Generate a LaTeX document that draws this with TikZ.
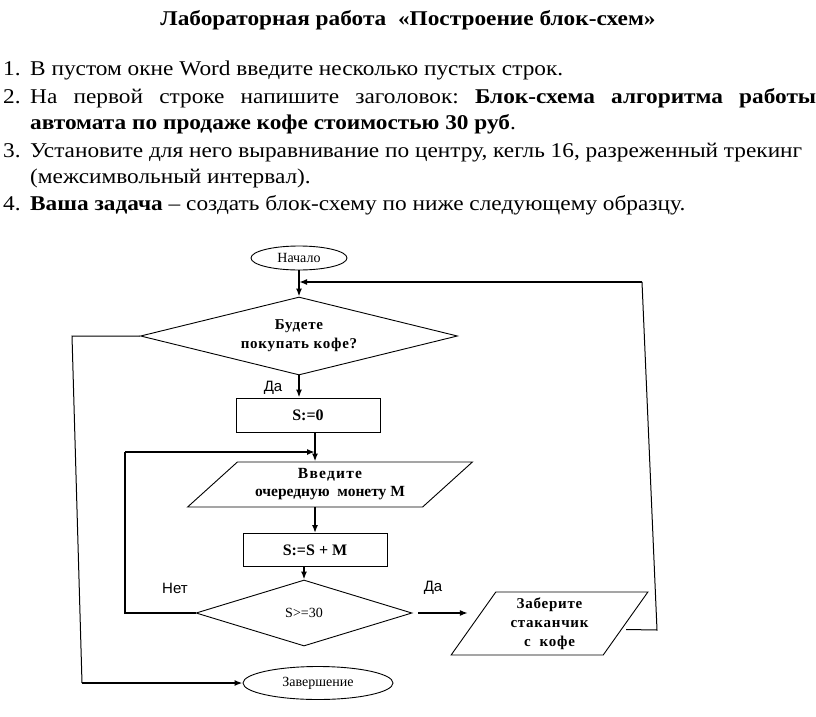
\documentclass[tikz,border=0pt]{standalone}
\usepackage{fontspec}
\setmainfont[FakeStretch=1.11]{Liberation Serif}
\newfontfamily\fcf{Liberation Serif}
\newfontfamily\arialf{Liberation Sans}
\usetikzlibrary{shapes.geometric,arrows.meta,calc}
\frenchspacing
\begin{document}
\begin{tikzpicture}[x=1pt,y=-1pt,
  txt/.style={anchor=base west,inner sep=0pt,font=\fontsize{21}{25}\selectfont},
  outl/.style={draw,line width=0.9pt},
  term/.style={outl,ellipse,inner sep=0pt,font=\fcf\fontsize{14}{16}\selectfont},
  proc/.style={outl,rectangle,inner sep=0pt,font=\fcf\bfseries\fontsize{16}{18}\selectfont},
  dec/.style={outl,diamond,inner sep=0pt},
  io/.style={outl,trapezium,trapezium stretches=true,inner sep=0pt,align=center},
  arr/.style={line width=1.6pt,-{Latex[length=8pt,width=6pt]}},
  thin/.style={line width=1pt},
  lbl/.style={inner sep=0pt,font=\arialf\fontsize{15}{17}\selectfont},
  sp/.style={font=\fcf\bfseries\fontsize{15}{19}\selectfont\addfontfeature{LetterSpace=5}}
]
\useasboundingbox (0,0) rectangle (816,717);
% ---- text part ----
\node[anchor=base,inner sep=0pt,font=\bfseries\fontsize{21}{25}\selectfont] (title) at (408,26) {Лабораторная работа\ \ «Построение блок-схем»};
\node[txt] (n1) at (3,75) {1.};
\node[txt] (t1) at (30,75) {В пустом окне Word введите несколько пустых строк.};
\node[txt] (n2) at (3,103) {2.};
\node[txt] (t2) at (30,103) {\makebox[786pt][s]{На первой строке напишите заголовок: \textbf{Блок-схема алгоритма работы}}};
\node[txt] (t3) at (30,129) {\textbf{автомата по продаже кофе стоимостью 30 руб}.};
\node[txt] (n3) at (3,157) {3.};
\node[txt] (t4) at (30,157) {Установите для него выравнивание по центру, кегль 16, разреженный трекинг};
\node[txt] (t5) at (30,183) {(межсимвольный интервал).};
\node[txt] (n4) at (3,210) {4.};
\node[txt] (t6) at (30,210) {\textbf{Ваша задача} – создать блок-схему по ниже следующему образцу.};
% ---- flowchart ----
\node[term,minimum width=96pt,minimum height=24pt] (start) at (299,258) {Начало};
\node[dec,aspect=4,minimum width=317pt,minimum height=78pt,align=center,sp] (d1) at (299,336) {Будете\\покупать кофе?};
\node[proc,minimum width=144pt,minimum height=34pt] (s0) at (308,415) {S:=0};
\node[io,trapezium left angle=38,trapezium right angle=142,minimum width=285pt,minimum height=45pt,font=\fcf\bfseries\fontsize{15.5}{18}\selectfont] (vin) at (330,484.5) {{\addfontfeature{LetterSpace=8}Введите}\\очередную\ \ монету М};
\node[proc,minimum width=144pt,minimum height=33pt] (sum) at (315,550) {S:=S + M};
\node[dec,aspect=3.3,minimum width=216pt,minimum height=66pt,font=\fcf\fontsize{14}{16}\selectfont] (d2) at (304,613) {S>=30};
\node[io,trapezium left angle=58,trapezium right angle=122,minimum width=197pt,minimum height=63pt,sp] (take) at (549.5,623.5) {Заберите\\стаканчик\\с\ \ кофе};
\node[term,minimum width=150pt,minimum height=33pt] (end) at (318,683) {Завершение};
% labels
\node[lbl] (da1) at (273,388) {Да};
\node[lbl] (net) at (175,588) {Нет};
\node[lbl] (da2) at (433,588) {Да};
% coordinates
\coordinate (a0) at ([xshift=7pt]s0.south);
\coordinate (l1) at (72,336);
\coordinate (l2) at (82,683);
\coordinate (n2c) at (125,452);
\coordinate (r1) at (657,630);
\coordinate (r2) at (642,282);
% connectors
\draw[arr] (start) -- (d1.north);
\draw[arr] (d1.south) -- (d1.south |- s0.north);
\draw[arr] (a0) -- (a0 |- vin.north);
\draw[arr] (sum.north |- vin.south) -- (sum.north);
\draw[arr] (d2.north |- sum.south) -- (d2.north);
\draw[arr,shorten <=6pt,shorten >=5pt] (d2.east) -- (d2.east -| take.west);
\draw[thin] (d1.west) -- (l1) -- (l2);
\draw[arr] (l2) -- (end.west);
\draw[line width=1.4pt] (d2.west) -| (n2c);
\draw[arr] (n2c) -- (n2c -| a0);
\draw[thin] ([yshift=-6pt]take.east) -- (r1) -- (r2);
\draw[arr] (r2) -- (r2 -| start.south);
\end{tikzpicture}
\end{document}
